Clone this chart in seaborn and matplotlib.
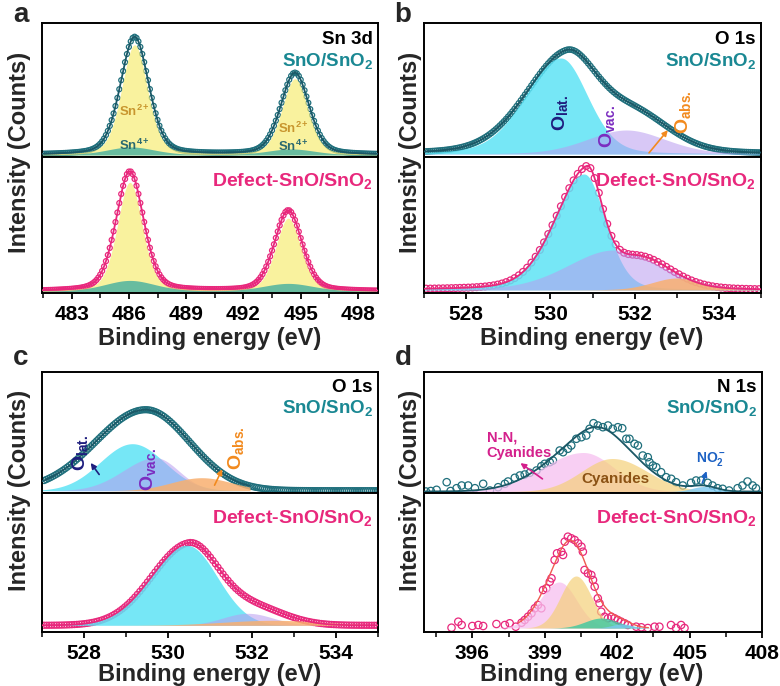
import numpy as np
import pandas as pd
import matplotlib
matplotlib.use("Agg")
import matplotlib.pyplot as plt
import seaborn as sns

# peaks: (centre eV, height, fwhm left, fwhm right)
# heights are in plot units, roughly 1 unit = 1 px of the original panel

# a) Sn 3d
sn3d_fit_top = [(486.3, 118, 1.75, 1.75), (494.7, 82, 1.75, 1.75)]
sn2_top = [(486.3, 110, 1.6, 1.6), (494.7, 76, 1.6, 1.6)]
sn4_top = [(486.1, 8, 3.0, 3.0), (494.5, 6, 3.0, 3.0)]
sn3d_fit_bot = [(486.05, 120, 1.7, 1.7), (494.35, 81, 1.7, 1.7)]
sn2_bot = [(486.05, 109, 1.55, 1.55), (494.35, 73, 1.55, 1.55)]
sn4_bot = [(486.05, 11, 3.2, 3.2), (494.35, 8, 3.2, 3.2)]

# b) O 1s
o1s_b_fit_top = [(530.38, 97, 2.3, 1.7), (532.0, 38, 2.0, 2.0)]
olat_b_top = [(530.25, 96, 2.0, 1.5)]
ovac_b_top = [(531.8, 24, 2.2, 2.2)]
o1s_b_fit_bot = [(530.86, 115, 1.75, 0.85), (532.1, 32, 1.8, 1.8)]
olat_b_bot = [(530.8, 116, 1.75, 1.2)]
ovac_b_bot = [(531.5, 40, 2.6, 2.6)]
oabs_b_bot = [(533.0, 12, 1.4, 1.4)]

# c) O 1s
o1s_c_fit_top = [(529.47, 81, 2.8, 2.45)]
olat_c_top = [(529.15, 47, 1.8, 1.8)]
ovac_c_top = [(529.7, 33, 1.8, 1.3)]
oabs_c_top = [(530.8, 13, 1.7, 1.7)]
o1s_c_fit_bot = [(530.5, 80, 2.1, 1.6), (532.0, 18, 1.8, 1.8)]
olat_c_bot = [(530.45, 80, 2.1, 1.7)]
ovac_c_bot = [(531.9, 12, 1.4, 1.4)]
oabs_c_bot = [(532.5, 5, 2.8, 2.8)]

# d) N 1s components
nn_top = [(400.6, 39, 4.0, 3.0)]
cn_top = [(401.8, 33, 3.0, 3.4)]
no2_top = [(405.6, 5, 1.2, 1.2)]
nn_bot = [(399.6, 46, 1.9, 1.7)]
cn_bot = [(400.3, 52, 1.5, 1.5)]
nx_bot = [(401.35, 10, 1.6, 1.6)]
no2_bot = [(402.2, 4, 1.0, 1.0)]

# d) measured N 1s points
n1s_top_be = [394.08, 394.28, 394.52, 394.94, 395.10, 395.35, 395.56, 395.83, 396.11, 396.45,
              396.73, 397.07, 397.35, 397.48, 397.76, 397.97, 398.17, 398.38, 398.66, 398.86,
              399.00, 399.21, 399.34, 399.62, 399.76, 399.96, 400.10, 400.31, 400.52, 400.72,
              400.86, 401.02, 401.20, 401.41, 401.62, 401.82, 402.03, 402.21, 402.38, 402.51,
              402.72, 402.86, 403.06, 403.27, 403.34, 403.48, 403.62, 403.82, 404.03, 404.24,
              404.44, 404.72, 405.06, 405.27, 405.48, 405.75, 405.95, 406.16, 406.37, 406.64,
              406.99, 407.19, 407.40, 407.61, 407.75]
n1s_top_counts = [0, 0.5, 1.7, 9.3, 0.5, 3.3, 6, 6, 3.3, 7.7,
                  1, 4.3, 7.7, 10, 13.7, 16, 17, 18.7, 21, 25.3,
                  27.7, 29.3, 31, 41, 39.3, 42.7, 46, 52.7, 54.3, 56,
                  62.7, 68.3, 66, 64.3, 66, 62.7, 64.3, 63.3, 52.7, 52.7,
                  47.7, 46, 36, 34.3, 29.3, 26, 24.3, 19.3, 14.3, 12.7,
                  9.3, 6, 8.7, 11, 11, 8.7, 6, 3.3, 2.7, 1,
                  3.3, 6, 10, 6, 3.3]
n1s_bot_be = [395.14, 395.42, 395.56, 396.00, 396.25, 396.45, 397.00, 397.35, 397.55, 397.80,
              398.04, 398.17, 398.31, 398.45, 398.59, 398.72, 398.86, 398.93, 399.07, 399.21,
              399.28, 399.41, 399.51, 399.69, 399.76, 399.83, 399.96, 400.10, 400.24, 400.38,
              400.52, 400.58, 400.65, 400.79, 400.93, 401.00, 401.07, 401.20, 401.27, 401.34,
              401.48, 401.62, 401.76, 401.89, 402.03, 402.17, 402.31, 402.44, 402.79, 403.00,
              403.27, 403.55, 403.75, 404.23, 404.44, 404.65, 404.79]
n1s_bot_counts = [0.3, 6.3, 3, 2, 3, 2, 4, 3, 4.7, 1.3,
                  5.3, 8, 11.3, 14.7, 19.7, 23, 19.7, 38, 39.7, 46.3,
                  49.7, 68, 74.7, 76.3, 73, 86.3, 91.3, 89.7, 88, 84.7,
                  81.3, 76.3, 58, 54.7, 53, 48, 41.3, 29.7, 24.7, 16.3,
                  11.3, 9.7, 11.3, 9.7, 8, 6.3, 4.7, 3, 1.3, 0.7,
                  0, 1.3, 1.3, 3, 0, 3, 0]

TEAL = "#1f6f7c"
TEAL_LINE = "#1b5866"
TEAL_TXT = "#1a8893"
MAG = "#e8287c"

sns.set_theme(style="ticks")
plt.rcParams['font.family'] = ['Liberation Sans', 'DejaVu Sans']
plt.rcParams['font.weight'] = 'bold'
plt.rcParams['mathtext.fontset'] = 'custom'
plt.rcParams['mathtext.rm'] = 'Liberation Sans:bold'
plt.rcParams['mathtext.it'] = 'Liberation Sans:bold'
plt.rcParams['mathtext.bf'] = 'Liberation Sans:bold'
plt.rcParams['mathtext.default'] = 'regular'


def profile(x, peaks, eta=0.0):
    # split pseudo-voigt sum
    y = np.zeros_like(x)
    for c, h, wl, wr in peaks:
        w = np.where(x < c, wl, wr)
        u = (x - c) / w
        g = np.exp(-4 * np.log(2) * u ** 2)
        l = 1 / (1 + 4 * u ** 2)
        y = y + h * ((1 - eta) * g + eta * l)
    return y


W, H = 780, 686
fig = plt.figure(figsize=(W / 100, H / 100), dpi=100)


def px_axes(x0, y0, x1, y1):
    return fig.add_axes([x0 / W, 1 - y1 / H, (x1 - x0) / W, (y1 - y0) / H])


def style(ax, xlim, ylim, major, minor, labels):
    ax.set_xlim(*xlim)
    ax.set_ylim(*ylim)
    ax.set_yticks([])
    ax.set_xticks(major)
    ax.set_xticks(minor, minor=True)
    ax.tick_params(axis='x', which='major', direction='out', length=4.5, width=1.3,
                   labelsize=15, pad=4, labelbottom=labels, colors='black')
    ax.tick_params(axis='x', which='minor', direction='out', length=3.5, width=1.3)
    for s in ax.spines.values():
        s.set_linewidth(1.4)
        s.set_color('black')
    ax.set_xlabel('')
    ax.set_ylabel('')


def spectrum(ax, xlim, fit=None, eta=0.0, step=0.1, pts=None, comps=(), color=TEAL,
             line_color=TEAL_LINE, size=14, fit_range=None, fill_cut=None, lw=1.3):
    xs = np.linspace(xlim[0], xlim[1], 900)
    if pts is None:
        be = np.arange(xlim[0] + 0.05, xlim[1], step)
        counts = profile(be, fit, eta)
    else:
        be, counts = np.array(pts[0]), np.array(pts[1])
    df = pd.DataFrame({'be': be, 'counts': counts})
    sns.scatterplot(data=df, x='be', y='counts', ax=ax, marker='o', s=size,
                    facecolor='none', edgecolor=color, linewidth=0.9, zorder=1)
    total = np.zeros_like(xs)
    for peaks, col, alpha in comps:
        yc = profile(xs, peaks, eta if pts is None else 0.0)
        total = total + yc
        if fill_cut is not None:
            yc = np.where(xs <= fill_cut, yc, 0)
        ax.fill_between(xs, 0, yc, color=col, alpha=alpha, lw=0, zorder=2)
    yfit = profile(xs, fit, eta) if fit is not None else total
    if fit_range is not None:
        m = (xs >= fit_range[0]) & (xs <= fit_range[1])
        xl, yl = xs[m], yfit[m]
    else:
        xl, yl = xs, yfit
    sns.lineplot(x=xl, y=yl, ax=ax, color=line_color, lw=lw, estimator=None,
                 sort=False, zorder=3)


YEL = "#f7ee7e"
SN4 = "#4fb3a0"
CYAN = "#5ee3f5"
PURP = "#b89cf0"
ORNG = "#f8b070"

# layout in pixels of the original figure
layout = {
    'a': (42, 23, 157, 293, 378),
    'b': (424, 23, 157, 293, 761),
    'c': (42, 372, 493, 632, 378),
    'd': (424, 372, 493, 632, 762),
}
axes = {}
for k, (x0, yt, ym, yb, x1) in layout.items():
    axes[k] = (px_axes(x0, yt, x1, ym), px_axes(x0, ym, x1, yb))

# ---- a
xa = (481.45, 499.05)
ta, ba = axes['a']
spectrum(ta, xa, sn3d_fit_top, eta=0.3, step=0.1, size=13,
         comps=[(sn2_top, YEL, 0.75), (sn4_top, SN4, 0.85)])
spectrum(ba, xa, sn3d_fit_bot, eta=0.3, step=0.1, size=13, color=MAG, line_color=MAG,
         comps=[(sn2_bot, YEL, 0.75), (sn4_bot, SN4, 0.85)])
style(ta, xa, (-2, 132), np.arange(483, 499, 3), np.arange(481.5, 499, 1.5), False)
style(ba, xa, (-1.5, 134.5), np.arange(483, 499, 3), np.arange(481.5, 499, 1.5), True)
for x, y2, y4 in [(486.3, 44, 10), (494.6, 27, 9)]:
    ta.text(x, y2, 'Sn$^{2+}$', color='#c8962e', fontsize=9.5, ha='center', va='center', zorder=5)
    ta.text(x, y4, 'Sn$^{4+}$', color='#2b6a70', fontsize=9.5, ha='center', va='center', zorder=5)

# ---- b
xb = (527, 535)
tb, bb = axes['b']
spectrum(tb, xb, o1s_b_fit_top, eta=0.2, step=0.05, size=15,
         comps=[(olat_b_top, CYAN, 0.85), (ovac_b_top, PURP, 0.55)])
spectrum(bb, xb, o1s_b_fit_bot, eta=0.2, step=0.1, size=24, color=MAG, line_color=MAG,
         comps=[(olat_b_bot, CYAN, 0.85), (ovac_b_bot, PURP, 0.55), (oabs_b_bot, ORNG, 0.85)])
style(tb, xb, (-3, 131), np.arange(528, 535, 2), np.arange(527, 535.5, 1), False)
style(bb, xb, (-3, 133), np.arange(528, 535, 2), np.arange(527, 535.5, 1), True)
tb.text(530.22, 41, 'O$_{lat.}$', color='#1e1e7e', fontsize=14, rotation=90, ha='center', va='center', zorder=5)
tb.text(531.34, 27, 'O$_{vac.}$', color='#7b2cc0', fontsize=14, rotation=90, ha='center', va='center', zorder=5)
tb.text(533.14, 42, 'O$_{abs.}$', color='#f28a1e', fontsize=14, rotation=90, ha='center', va='center', zorder=5)
tb.annotate('', xy=(532.83, 26), xytext=(532.3, -1),
            arrowprops=dict(arrowstyle='-|>', color='#f28a1e', lw=1.2, mutation_scale=8), zorder=5)

# ---- c
tc, bc = axes['c']
spectrum(tc, xb, o1s_c_fit_top, step=0.05, size=19, fit_range=(527, 531.95), fill_cut=531.95,
         comps=[(olat_c_top, CYAN, 0.85), (ovac_c_top, PURP, 0.55), (oabs_c_top, ORNG, 0.85)])
spectrum(bc, xb, o1s_c_fit_bot, step=0.06, size=19, color=MAG, line_color=MAG,
         comps=[(olat_c_bot, CYAN, 0.85), (ovac_c_bot, PURP, 0.55), (oabs_c_bot, ORNG, 0.85)])
style(tc, xb, (-2.3, 118.7), np.arange(528, 535, 2), np.arange(527, 535.5, 1), False)
style(bc, xb, (-6.7, 132.3), np.arange(528, 535, 2), np.arange(527, 535.5, 1), True)
tc.text(527.9, 38, 'O$_{lat.}$', color='#1e1e7e', fontsize=14, rotation=90, ha='center', va='center', zorder=5)
tc.annotate('', xy=(528.12, 30), xytext=(528.4, 14),
            arrowprops=dict(arrowstyle='-|>', color='#1e1e7e', lw=1.2, mutation_scale=8), zorder=5)
tc.text(529.52, 21, 'O$_{vac.}$', color='#7b2cc0', fontsize=14, rotation=90, ha='center', va='center', zorder=5)
tc.text(531.63, 43, 'O$_{abs.}$', color='#f28a1e', fontsize=14, rotation=90, ha='center', va='center', zorder=5)
tc.annotate('', xy=(531.32, 24), xytext=(531.08, 3),
            arrowprops=dict(arrowstyle='-|>', color='#f28a1e', lw=1.2, mutation_scale=8), zorder=5)

# ---- d
xd = (394.0, 408.0)
td, bd = axes['d']
spectrum(td, xd, pts=(n1s_top_be, n1s_top_counts), size=28,
         comps=[(nn_top, "#f6c0f0", 0.75), (cn_top, "#f5d07a", 0.7), (no2_top, "#7cc8f0", 0.8)])
spectrum(bd, xd, pts=(n1s_bot_be, n1s_bot_counts), size=28, color=MAG, line_color="#f05a50",
         fit_range=(397.9, 403.3), lw=1.0,
         comps=[(nn_bot, "#f6c0f0", 0.75), (cn_bot, "#f5d07a", 0.7), (nx_bot, "#3cc8a0", 0.8),
                (no2_bot, "#7cc8f0", 0.8)])
style(td, xd, (-1.5, 119.5), np.arange(396, 409, 3), np.arange(394.5, 408.1, 1.5), False)
style(bd, xd, (-4, 135), np.arange(396, 409, 3), np.arange(394.5, 408.1, 1.5), True)
td.text(396.6, 46, 'N-N,\nCyanides', color='#d4208c', fontsize=10.5, ha='left', va='center',
        linespacing=1.1, zorder=5)
td.annotate('', xy=(397.9, 30), xytext=(399.0, 11),
            arrowprops=dict(arrowstyle='-|>', color='#d4208c', lw=1.2, mutation_scale=8), zorder=5)
td.text(401.93, 12, 'Cyanides', color='#8b5214', fontsize=11, ha='center', va='center', zorder=5)
td.text(405.9, 33, 'NO$_2^-$', color='#1d62c4', fontsize=10, ha='center', va='center', zorder=5)
td.annotate('', xy=(405.74, 23), xytext=(405.49, 6),
            arrowprops=dict(arrowstyle='-|>', color='#1d62c4', lw=1.2, mutation_scale=8), zorder=5)

# ---- labels
element = {'a': 'Sn 3d', 'b': 'O 1s', 'c': 'O 1s', 'd': 'N 1s'}
for k, (top, bot) in axes.items():
    hi = 0.88 if k in 'ab' else 0.87
    lo = 0.715 if k in 'ab' else 0.70
    top.text(0.985, hi, element[k], transform=top.transAxes, ha='right', va='center',
             fontsize=13.5, color='black')
    top.text(0.985, lo, 'SnO/SnO$_2$', transform=top.transAxes, ha='right', va='center',
             fontsize=13.5, color=TEAL_TXT)
    bot.text(0.985, 0.82, 'Defect-SnO/SnO$_2$', transform=bot.transAxes, ha='right',
             va='center', fontsize=14, color=MAG)

for k, (lx, ly) in {'a': (21, 15), 'b': (403, 15), 'c': (21, 358), 'd': (403, 358)}.items():
    fig.text(lx / W, 1 - ly / H, k, fontsize=20, fontweight='bold', ha='center', va='center')
for yx, yy in [(20, 152), (410, 152), (20, 490), (410, 490)]:
    fig.text(yx / W, 1 - yy / H, 'Intensity (Counts)', fontsize=17, rotation=90,
             ha='center', va='center')
for xx, xy in [(210, 338), (592, 338), (210, 674), (592, 674)]:
    fig.text(xx / W, 1 - xy / H, 'Binding energy (eV)', fontsize=17, ha='center', va='center')

fig.savefig('out.png', dpi=100)
